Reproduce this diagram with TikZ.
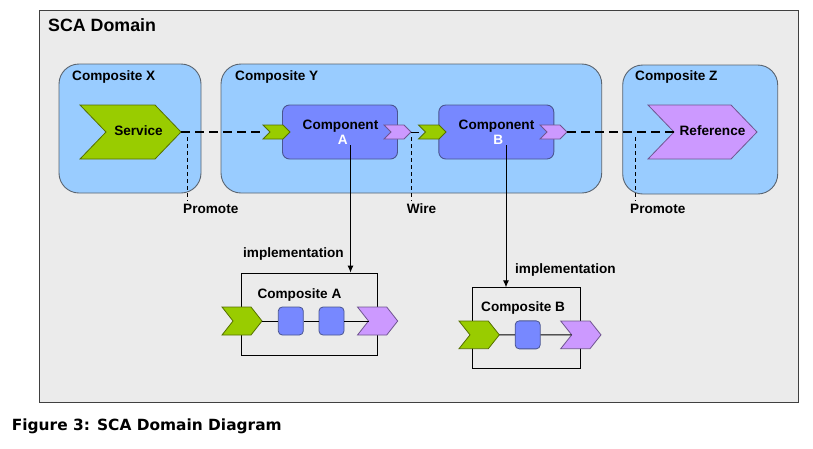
\documentclass[tikz,border=0pt]{standalone}
\usepackage{fontspec}
\setmainfont{Liberation Sans}
\newfontfamily\capfont{DejaVu Sans}
\usetikzlibrary{arrows.meta,calc}
\definecolor{domfill}{HTML}{EBEBEB}
\definecolor{domline}{HTML}{404040}
\definecolor{cpfill}{HTML}{99CCFF}
\definecolor{cpline}{HTML}{5A6470}
\definecolor{cofill}{HTML}{7788FF}
\definecolor{coline}{HTML}{4A5590}
\definecolor{svfill}{HTML}{99CC00}
\definecolor{svline}{HTML}{557000}
\definecolor{rffill}{HTML}{CC99FF}
\definecolor{rfline}{HTML}{705590}
% chevron: name, L, R, T, B, depth, fill, line
\newcommand\mychev[8]{%
  \coordinate (#1-west) at (#2,{(#4+#5)/2});
  \coordinate (#1-notch) at ({#2+#6},{(#4+#5)/2});
  \coordinate (#1-tip) at (#3,{(#4+#5)/2});
  \filldraw[fill=#7,draw=#8,line width=0.8pt,line join=miter]
    (#2,#4) -- ({#3-#6},#4) -- (#1-tip) -- ({#3-#6},#5) -- (#2,#5) -- (#1-notch) -- cycle;
}
\tikzset{
  lbl/.style={font=\bfseries\fontsize{13.6}{15}\selectfont, inner sep=0pt},
  compositebox/.style={draw=cpline, fill=cpfill, line width=0.9pt, rounded corners=20pt, inner sep=0pt},
  componentbox/.style={draw=coline, fill=cofill, line width=0.9pt, rounded corners=7pt, inner sep=0pt, minimum width=115pt, minimum height=54pt},
  implbox/.style={draw=black, line width=0.8pt, inner sep=0pt},
  sq/.style={draw=coline, fill=cofill, line width=0.8pt, rounded corners=4pt, inner sep=0pt, minimum width=25pt, minimum height=28pt},
  promoteline/.style={line width=2pt, dash pattern=on 9pt off 5pt},
  thindash/.style={line width=0.9pt, dash pattern=on 4pt off 3pt},
  implarrow/.style={line width=0.9pt, -{Latex[length=7pt,width=6pt]}},
  thinwire/.style={line width=0.9pt},
}
\begin{document}
\begin{tikzpicture}[x=1pt,y=-1pt]
\useasboundingbox (0,0) rectangle (813,448);
\fill[white] (0,0) rectangle (813,448);
% domain
\node[draw=domline, fill=domfill, line width=1pt, inner sep=0pt, minimum width=759pt, minimum height=392pt] (domain) at (418.5,206) {};
\node[font=\bfseries\fontsize{17.8}{20}\selectfont, inner sep=0pt, anchor=base west] (domtitle) at (48,31) {SCA Domain};
% composites
\node[compositebox, minimum width=142pt, minimum height=129pt] (compX) at (130,128.5) {};
\node[compositebox, minimum width=380.7pt, minimum height=129pt] (compY) at (411.35,128.5) {};
\node[compositebox, minimum width=155pt, minimum height=129pt] (compZ) at (700.2,129.5) {};
\node[lbl, anchor=base west] (tX) at (72,80) {Composite X};
\node[lbl, anchor=base west] (tY) at (235,80) {Composite Y};
\node[lbl, anchor=base west] (tZ) at (635,80) {Composite Z};
% service and reference
\mychev{service}{80}{181}{105}{159}{26}{svfill}{svline}
\mychev{reference}{648}{757}{105}{159}{26}{rffill}{rfline}
\node[lbl, anchor=base] (tService) at (138.5,135) {Service};
\node[lbl, anchor=base] (tRef) at (712.5,135) {Reference};
% components
\node[componentbox] (compA) at (340,132) {};
\node[componentbox] (compB) at (496.3,132) {};
\node[lbl, anchor=base] (tCA) at (340.5,129.3) {Component};
\node[lbl, anchor=base, text=white] (tA) at (342.7,144.3) {A};
\node[lbl, anchor=base] (tCB) at (496.5,129.3) {Component};
\node[lbl, anchor=base, text=white] (tB) at (498.3,144.3) {B};
% small chevrons
\mychev{svA}{263}{290}{125}{139}{7}{svfill}{svline}
\mychev{rfA}{384}{411}{125}{139}{7}{rffill}{rfline}
\mychev{svB}{418.5}{446}{125}{139}{7}{svfill}{svline}
\mychev{rfB}{540}{567}{125}{139}{7}{rffill}{rfline}
% wires
\draw[promoteline] (service-tip) -- (svA-west);
\draw[promoteline] (rfB-tip) -- (reference-notch);
\draw[thinwire] (rfA-tip) -- (svB-west);
% dashed drop lines
\coordinate (p1top) at (187,137); \coordinate (p1bot) at (187,201);
\coordinate (wtop) at (411.3,137); \coordinate (wbot) at (411.3,201);
\coordinate (p2top) at (635.3,137); \coordinate (p2bot) at (635.3,201);
\draw[thindash] (p1top) -- (p1bot);
\draw[thindash] (wtop) -- (wbot);
\draw[thindash] (p2top) -- (p2bot);
\node[lbl, anchor=base west] (tP1) at (183,213.5) {Promote};
\node[lbl, anchor=base west] (tW) at (406.7,213.5) {Wire};
\node[lbl, anchor=base west] (tP2) at (630,213.5) {Promote};
% composite A
\node[implbox, minimum width=136pt, minimum height=82.3pt] (cA) at (309.7,314.15) {};
\node[lbl, anchor=base west] (tcA) at (257.3,298.3) {Composite A};
\node[sq] (sqA1) at (290.8,321) {};
\node[sq] (sqA2) at (331.5,321) {};
\mychev{gA}{222}{262}{307}{335}{11}{svfill}{svline}
\mychev{pA}{357.5}{397.7}{307}{335}{11}{rffill}{rfline}
\draw[thinwire] (gA-tip) -- (sqA1.west);
\draw[thinwire] (sqA1.east) -- (sqA2.west);
\draw[thinwire] (sqA2.east) -- (pA-notch);
% composite B
\node[implbox, minimum width=108.3pt, minimum height=80.3pt] (cB) at (526.15,327.85) {};
\node[lbl, anchor=base west] (tcB) at (481,311.7) {Composite B};
\node[sq] (sqB) at (527.7,334.85) {};
\mychev{gB}{459}{499.3}{321}{348.7}{11}{svfill}{svline}
\mychev{pB}{560.7}{601}{321}{348.7}{11}{rffill}{rfline}
\draw[thinwire] (gB-tip) -- (sqB.west);
\draw[thinwire] (sqB.east) -- (pB-notch);
% implementation arrows
\coordinate (aStart) at (350.5,145);
\coordinate (bStart) at (506,145);
\draw[implarrow] (aStart) -- (aStart |- cA.north);
\draw[implarrow] (bStart) -- (bStart |- cB.north);
\node[lbl, anchor=base west] (iA) at (243,257) {implementation};
\node[lbl, anchor=base west] (iB) at (515,273.3) {implementation};
% caption
\node[font=\capfont\bfseries\fontsize{15.4}{18}\selectfont, inner sep=0pt, anchor=base west] (caption) at (11.7,430) {Figure 3: SCA Domain Diagram};
\end{tikzpicture}
\end{document}
